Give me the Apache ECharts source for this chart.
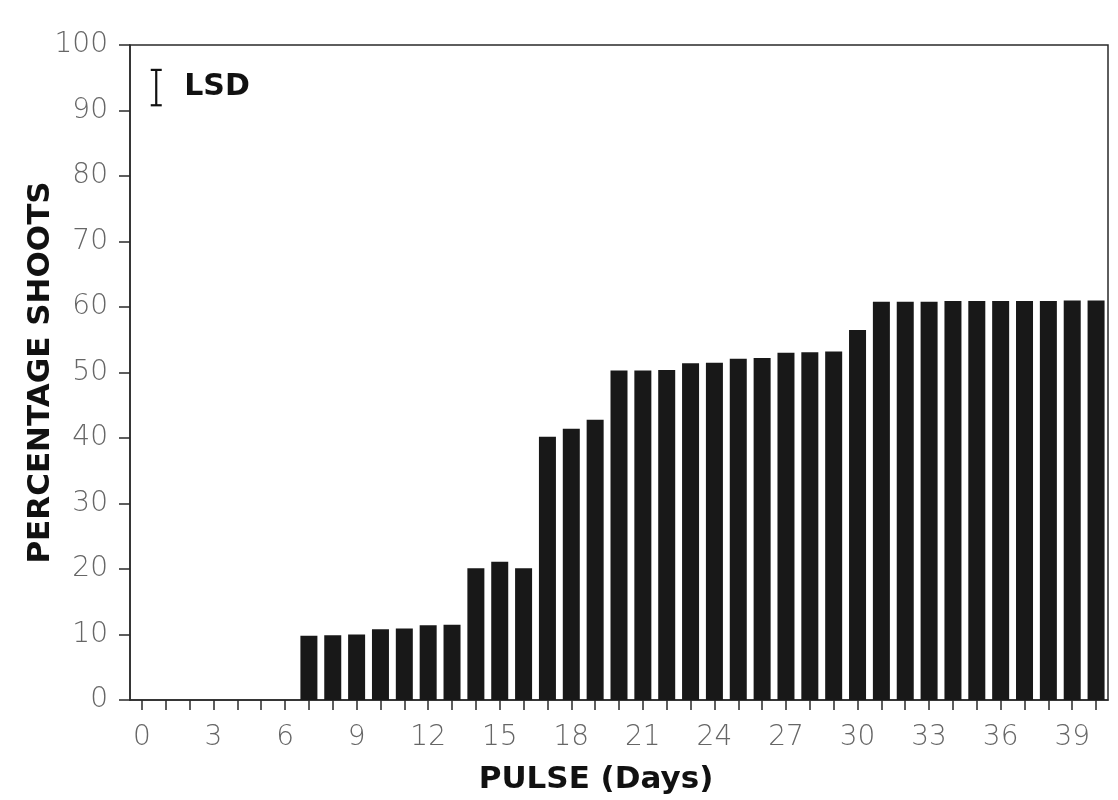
<!DOCTYPE html>
<html>
<head>
<meta charset="utf-8">
<script src="https://cdn.jsdelivr.net/npm/echarts@6/dist/echarts.min.js"></script>
<style>
  html, body { margin: 0; padding: 0; background: #fff; }
  #mychart { width: 1118px; height: 800px; }
</style>
</head>
<body>
<div id="mychart"></div>
<script>
// pulse length, days 0..40
let days = [];
for (let d = 0; d <= 40; d++) days.push(String(d));

// percentage shoots per pulse day (no bars for days 0-6)
let shoots = [
  null, null, null, null, null, null, null,
  9.8, 9.9, 10.0, 10.8, 10.9, 11.4, 11.5,
  20.1, 21.1, 20.1,
  40.2, 41.4, 42.8,
  50.3, 50.3, 50.4, 51.4, 51.5, 52.1, 52.2, 53.0, 53.1, 53.2,
  56.5,
  60.8, 60.8, 60.8, 60.9, 60.9, 60.9, 60.9, 60.9, 61.0, 61.0,
];

// least significant difference key, drawn in the top left corner
let lsd = { low: 90.8, high: 96.2 };

let yTicks = [0, 10, 20, 30, 40, 50, 60, 70, 80, 90, 100];

let colors = {
  bar: '#181818',
  axis: '#2a2a2a',
  label: '#666',
  title: '#111',
};

let labelFont = {
  color: colors.label,
  fontFamily: 'DejaVu Sans',
  fontWeight: 200,
  fontSize: 28,
};

let titleFont = {
  color: colors.title,
  fontFamily: 'DejaVu Sans',
  fontWeight: 'bold',
  fontSize: 31,
};

let myChart = echarts.init(document.getElementById('mychart'));

let option = {
  backgroundColor: '#fff',
  animation: false,
  grid: {
    left: 130,
    right: 10,
    top: 45,
    bottom: 100,
    show: true,
    borderColor: colors.axis,
    borderWidth: 1.5,
    backgroundColor: 'transparent',
  },
  xAxis: {
    type: 'category',
    data: days,
    boundaryGap: true,
    name: 'PULSE (Days)',
    nameLocation: 'middle',
    nameGap: 64,
    nameTextStyle: Object.assign({}, titleFont, { padding: [0, 46, 0, 0] }),
    axisLine: { lineStyle: { color: colors.axis, width: 1.5 } },
    axisTick: {
      show: true,
      interval: 0,
      alignWithLabel: true,
      length: 10,
      lineStyle: { color: colors.axis, width: 1.5 },
    },
    axisLabel: Object.assign({}, labelFont, { interval: 2, margin: 24 }),
    splitLine: { show: false },
  },
  yAxis: {
    type: 'value',
    min: yTicks[0],
    max: yTicks[yTicks.length - 1],
    interval: 10,
    name: 'PERCENTAGE SHOOTS',
    nameLocation: 'middle',
    nameGap: 74,
    nameMoveOverlap: false,
    nameTextStyle: titleFont,
    axisLine: { show: true, lineStyle: { color: colors.axis, width: 1.5 } },
    axisTick: {
      show: true,
      length: 11,
      lineStyle: { color: colors.axis, width: 1.5 },
    },
    axisLabel: Object.assign({}, labelFont, { margin: 22 }),
    splitLine: { show: false },
  },
  series: [
    {
      name: 'shoots',
      type: 'bar',
      data: shoots,
      barWidth: 17,
      itemStyle: { color: colors.bar },
    },
    {
      // LSD key: error bar + label
      name: 'LSD',
      type: 'custom',
      silent: true,
      data: [[0, lsd.low, lsd.high]],
      renderItem: function (params, api) {
        let lo = api.coord([api.value(0), api.value(1)]);
        let hi = api.coord([api.value(0), api.value(2)]);
        let band = api.size([1, 0])[0];
        let x = lo[0] + band * 0.6;
        let cap = 5.5;
        let line = { stroke: colors.title, lineWidth: 2.2 };
        return {
          type: 'group',
          children: [
            { type: 'line', shape: { x1: x, y1: hi[1], x2: x, y2: lo[1] }, style: line },
            { type: 'line', shape: { x1: x - cap, y1: hi[1], x2: x + cap, y2: hi[1] }, style: line },
            { type: 'line', shape: { x1: x - cap, y1: lo[1], x2: x + cap, y2: lo[1] }, style: line },
            {
              type: 'text',
              style: {
                text: 'LSD',
                x: x + 28,
                y: (hi[1] + lo[1]) / 2,
                verticalAlign: 'middle',
                fill: colors.title,
                font: 'bold 30px "DejaVu Sans"',
              },
            },
          ],
        };
      },
    },
  ],
};

myChart.setOption(option);
</script>
</body>
</html>
